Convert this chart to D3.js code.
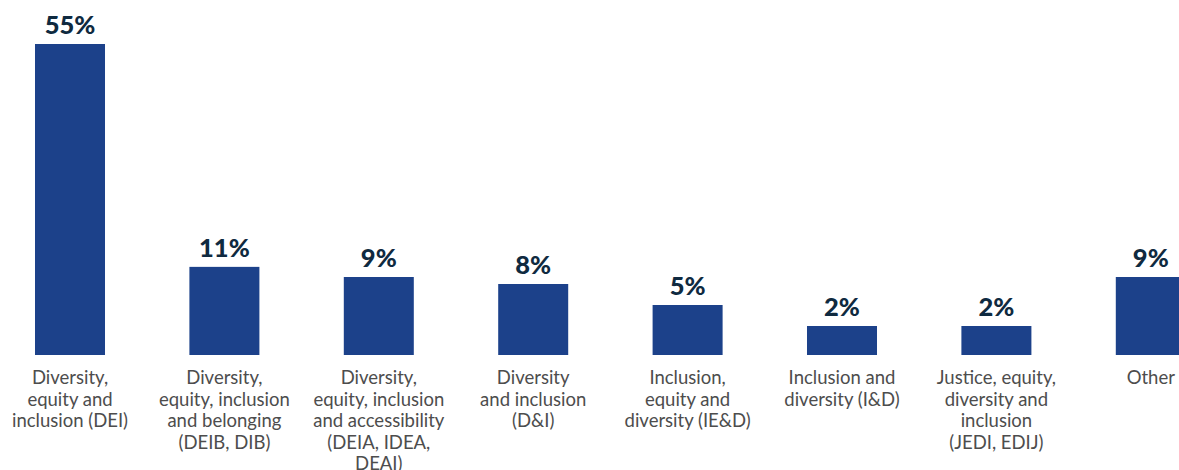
<!DOCTYPE html>
<html>
<head>
<meta charset="utf-8">
<script src="https://cdn.jsdelivr.net/npm/d3@7"></script>
<style>
  html, body { margin: 0; padding: 0; background: #ffffff; overflow: hidden; }
  svg { display: block; }
</style>
</head>
<body>
<svg id="chart" width="1179" height="470"></svg>
<script>
// Terms used for the work, share of respondents
const categories = [
  "Diversity,\nequity and\ninclusion (DEI)",
  "Diversity,\nequity, inclusion\nand belonging\n(DEIB, DIB)",
  "Diversity,\nequity, inclusion\nand accessibility\n(DEIA, IDEA,\nDEAI)",
  "Diversity\nand inclusion\n(D&I)",
  "Inclusion,\nequity and\ndiversity (IE&D)",
  "Inclusion and\ndiversity (I&D)",
  "Justice, equity,\ndiversity and\ninclusion\n(JEDI, EDIJ)",
  "Other"
];
const values = [55, 11, 9, 8, 5, 2, 2, 9];
const valueLabels = ["55%", "11%", "9%", "8%", "5%", "2%", "2%", "9%"];

const svg = d3.select("#chart");
const baseline = 355;

const x = d3.scaleBand()
  .domain(categories)
  .range([-7.2, 1228])
  .paddingInner(0.5466)
  .paddingOuter(0.2733);

// Compressed value axis: small shares are stretched, the top share is shortened
const y = d3.scaleLinear()
  .domain([0, 2, 9, 55])
  .range([baseline, 326, 277, 44]);

const data = categories.map((c, i) => ({ cat: c, value: values[i], label: valueLabels[i] }));

svg.append("g")
  .selectAll("rect")
  .data(data)
  .join("rect")
  .attr("x", d => x(d.cat))
  .attr("y", d => y(d.value))
  .attr("width", x.bandwidth())
  .attr("height", d => y(0) - y(d.value))
  .attr("fill", "#1c418a");

svg.append("g")
  .selectAll("text")
  .data(data)
  .join("text")
  .attr("x", d => x(d.cat) + x.bandwidth() / 2)
  .attr("y", d => y(d.value) - 10)
  .attr("text-anchor", "middle")
  .attr("font-family", "Lato, 'Open Sans', sans-serif")
  .attr("font-weight", 900)
  .attr("font-size", 25.5)
  .attr("fill", "#0f2a40")
  .text(d => d.label);

const catG = svg.append("g")
  .selectAll("text")
  .data(data)
  .join("text")
  .attr("x", d => x(d.cat) + x.bandwidth() / 2)
  .attr("y", 384)
  .attr("text-anchor", "middle")
  .attr("font-family", "Lato, 'Open Sans', sans-serif")
  .attr("font-weight", 400)
  .attr("font-size", 18.5)
  .attr("fill", "#4d4d4d");

catG.each(function(d) {
  const t = d3.select(this);
  d.cat.split("\n").forEach((line, i) => {
    t.append("tspan")
      .attr("x", x(d.cat) + x.bandwidth() / 2)
      .attr("dy", i === 0 ? 0 : 21.5)
      .text(line);
  });
});
</script>
</body>
</html>
